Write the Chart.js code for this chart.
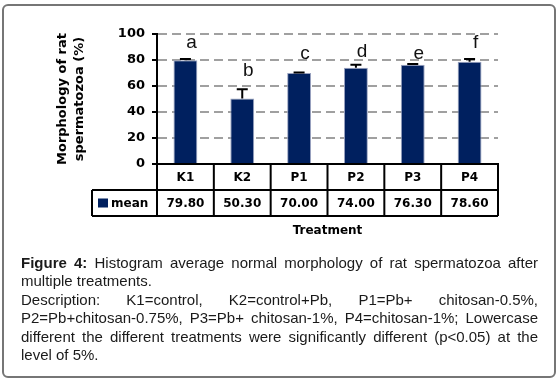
<!DOCTYPE html>
<html>
<head>
<meta charset="utf-8">
<script src="https://cdn.jsdelivr.net/npm/chart.js@4.4.1/dist/chart.umd.min.js"></script>
<style>
    html, body { margin: 0; padding: 0; background: #fff; }
    #wrap { position: relative; width: 559px; height: 384px; overflow: hidden; background: #fff; }
    #frame { position: absolute; left: 2px; top: 4px; width: 550px; height: 370px; border: 2px solid #767676; border-radius: 6px; }
    #chart { position: absolute; left: 0; top: 0; }
    #caption { position: absolute; left: 21px; top: 254px; width: 517px; font: 15px "Liberation Sans", Arial, sans-serif; line-height: 18.4px; color: #1a1a1a; }
    #caption .j { text-align: justify; text-align-last: justify; }
</style>
</head>
<body>
<div id="wrap">
    <div id="frame"></div>
    <canvas id="chart" width="559" height="384"></canvas>
    <div id="caption">
        <div class="j"><b>Figure 4:</b> Histogram average normal morphology of rat spermatozoa after</div>
        <div>multiple treatments.</div>
        <div class="j">Description: K1=control, K2=control+Pb, P1=Pb+ chitosan-0.5%,</div>
        <div class="j">P2=Pb+chitosan-0.75%, P3=Pb+ chitosan-1%, P4=chitosan-1%; Lowercase</div>
        <div class="j">different the different treatments were significantly different (p&lt;0.05) at the</div>
        <div>level of 5%.</div>
    </div>
</div>
<script>
// values
const treatments = ['K1', 'K2', 'P1', 'P2', 'P3', 'P4'];
const meanValues = [79.80, 50.30, 70.00, 74.00, 76.30, 78.60];
const errorValues = [0.9, 7.2, 0.4, 2.4, 0.7, 2.1];
const groupLetters = ['a', 'b', 'c', 'd', 'e', 'f'];
const letterLevels = [93, 72, 85, 86, 85, 93];
const yTicks = [0, 20, 40, 60, 80, 100];

const barColor = '#00205f';
const boldFont = '"DejaVu Sans", Verdana, sans-serif';

// error bars on top of each column
const errorBarPlugin = {
    id: 'errorBars',
    afterDatasetsDraw(chart) {
        const ctx = chart.ctx;
        const y = chart.scales.y;
        const meta = chart.getDatasetMeta(0);
        ctx.save();
        ctx.strokeStyle = '#000';
        ctx.lineWidth = 2;
        meta.data.forEach((bar, i) => {
            const top = y.getPixelForValue(meanValues[i] + errorValues[i]);
            ctx.beginPath();
            ctx.moveTo(bar.x, bar.y);
            ctx.lineTo(bar.x, top);
            ctx.moveTo(bar.x - 5.5, top);
            ctx.lineTo(bar.x + 5.5, top);
            ctx.stroke();
        });
        ctx.restore();
    }
};

// significance letters
const letterPlugin = {
    id: 'letters',
    afterDatasetsDraw(chart) {
        const ctx = chart.ctx;
        const y = chart.scales.y;
        const meta = chart.getDatasetMeta(0);
        ctx.save();
        ctx.fillStyle = '#111';
        ctx.font = '19px "Liberation Sans", Arial, sans-serif';
        ctx.textAlign = 'center';
        ctx.textBaseline = 'middle';
        meta.data.forEach((bar, i) => {
            ctx.fillText(groupLetters[i], bar.x + 6, y.getPixelForValue(letterLevels[i]));
        });
        ctx.restore();
    }
};

// data table under the x axis
const tablePlugin = {
    id: 'dataTable',
    afterDraw(chart) {
        const ctx = chart.ctx;
        const x = chart.scales.x;
        const area = chart.chartArea;
        const rowH = 26;
        const top = area.bottom;
        const mid = top + rowH;
        const bottom = mid + rowH;
        const legendLeft = area.left - 65;

        const bounds = [area.left];
        for (let i = 1; i < treatments.length; i++) {
            bounds.push((x.getPixelForValue(i - 1) + x.getPixelForValue(i)) / 2);
        }
        bounds.push(area.right);

        ctx.save();
        ctx.strokeStyle = '#000';
        ctx.lineWidth = 2;
        ctx.beginPath();
        ctx.moveTo(legendLeft, mid);
        ctx.lineTo(area.right, mid);
        ctx.moveTo(legendLeft, bottom);
        ctx.lineTo(area.right, bottom);
        ctx.moveTo(legendLeft, mid);
        ctx.lineTo(legendLeft, bottom);
        bounds.forEach(b => {
            ctx.moveTo(b, top);
            ctx.lineTo(b, bottom);
        });
        ctx.stroke();

        ctx.fillStyle = '#000';
        ctx.font = 'bold 12px ' + boldFont;
        ctx.textAlign = 'center';
        ctx.textBaseline = 'middle';
        const cy = (mid + bottom) / 2;
        meanValues.forEach((v, i) => {
            ctx.fillText(v.toFixed(2), x.getPixelForValue(i), cy + 1);
        });

        ctx.fillStyle = barColor;
        ctx.fillRect(legendLeft + 6, cy - 4.5, 10, 9);
        ctx.fillStyle = '#000';
        ctx.textAlign = 'left';
        ctx.fillText('mean', legendLeft + 19, cy + 1);
        ctx.restore();
    }
};

const ctx = document.getElementById('chart').getContext('2d');

new Chart(ctx, {
    type: 'bar',
    data: {
        labels: treatments,
        datasets: [{
            label: 'mean',
            data: meanValues,
            backgroundColor: barColor,
            borderColor: '#9aa3c0',
            borderWidth: 1,
            barPercentage: 0.42,
            categoryPercentage: 1
        }]
    },
    options: {
        responsive: false,
        animation: false,
        layout: {
            padding: { left: 40, top: 34, right: 61, bottom: 144 }
        },
        plugins: {
            legend: { display: false },
            tooltip: { enabled: false }
        },
        scales: {
            x: {
                offset: true,
                afterFit: scale => {
                    scale.height = 76;
                    scale.paddingLeft = 0;
                    scale.paddingRight = 0;
                },
                grid: { display: false, drawTicks: false },
                border: { display: true, color: '#000', width: 2 },
                ticks: {
                    color: '#000',
                    padding: 7,
                    font: { family: boldFont, size: 12, weight: 'bold' }
                },
                title: {
                    display: true,
                    text: 'Treatment',
                    color: '#000',
                    padding: { top: 0, bottom: 2 },
                    font: { family: boldFont, size: 12, weight: 'bold' }
                }
            },
            y: {
                min: 0,
                max: 100,
                afterBuildTicks: scale => {
                    scale.ticks = yTicks.map(v => ({ value: v }));
                },
                afterFit: scale => {
                    scale.width = 117;
                    scale.paddingTop = 0;
                    scale.paddingBottom = 0;
                },
                grid: {
                    color: '#a0a0a0',
                    lineWidth: 2,
                    tickColor: '#000',
                    tickLength: 5,
                    tickWidth: 2
                },
                border: { display: true, color: '#000', width: 2, dash: [9, 5] },
                ticks: {
                    color: '#000',
                    padding: 7,
                    font: { family: boldFont, size: 13, weight: 'bold' }
                },
                title: {
                    display: true,
                    text: ['Morphology of rat', 'spermatozoa (%)'],
                    color: '#000',
                    padding: { top: 14, bottom: 0 },
                    font: { family: boldFont, size: 13, weight: 'bold', lineHeight: 1.3 }
                }
            }
        }
    },
    plugins: [errorBarPlugin, letterPlugin, tablePlugin]
});
</script>
</body>
</html>
